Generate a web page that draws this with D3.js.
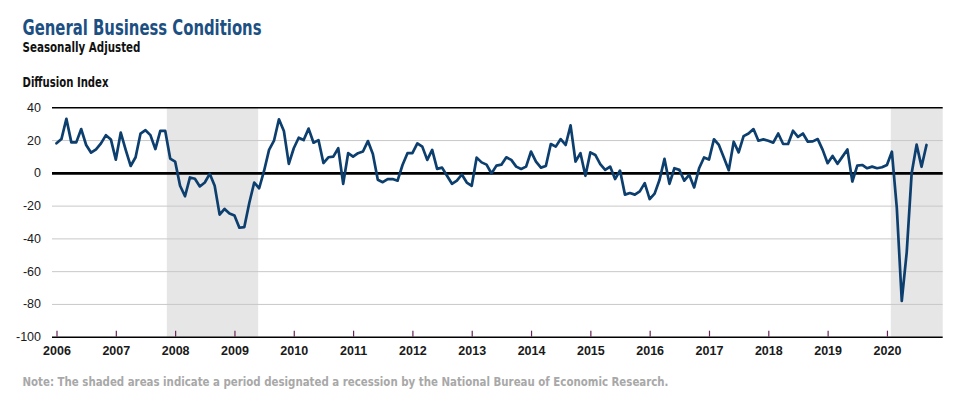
<!DOCTYPE html>
<html><head><meta charset="utf-8">
<script src="https://cdn.jsdelivr.net/npm/d3@7"></script>
<style>body{margin:0;background:#fff}svg{display:block}</style>
</head><body><svg id="c" width="957" height="394"></svg>
<script>
// Monthly values, Jan 2006 .. Sep 2020
const startYear = 2006;
const values = [
 18, 20.6, 33, 18.6, 18.6, 26.7, 17, 12.3, 14.3, 18, 23, 20.4,
 8, 24.6, 14, 4.2, 9.5, 24, 26, 23, 14.5, 25.6, 25.6, 8.7,
 6.9, -7.9, -14.3, -2.8, -3.6, -8.3, -5.9, -0.6, -7.9, -25.5, -22, -24.8,
 -26, -33.5, -33.1, -18.4, -5.9, -9.4, 1.3, 14, 19.6, 32.7, 25.5, 5.5,
 15, 21.4, 20, 27, 18.4, 20, 6, 9.5, 9.9, 15, -6.7, 12,
 9.9, 12, 13, 19.4, 11.5, -4.2, -5.7, -3.8, -3.8, -4.8, 4.8, 12,
 12, 18, 16, 7.9, 14, 2.4, 3.2, -1.8, -6.7, -4.8, -1, -5.9,
 -7.9, 9.3, 6.4, 5, -0.4, 4.4, 5, 9.5, 7.9, 3.8, 2.4, 3.8,
 13, 6.9, 3.2, 4.2, 17.6, 16, 20.6, 17, 29, 6.9, 12, -1.8,
 12.5, 10.9, 5.3, 1.8, 3.8, -3.8, 1.4, -13.3, -12.3, -13.3, -11.3, -6.3,
 -16, -12.7, -4.2, 8.5, -6.7, 2.8, 1.8, -4.8, -1.2, -8.9, 2.8, 9.4,
 8.1, 20.5, 17, 9.4, 1.6, 19, 12.5, 22.4, 24, 26.7, 19.6, 20.4,
 19.6, 18.4, 24, 17.6, 17.6, 25.7, 22, 24, 19, 19.2, 20.6, 14,
 5.9, 10.3, 5.5, 9.9, 14.3, -5.3, 4.4, 4.8, 2.8, 3.8, 2.8, 3.4,
 4.8, 12.9, -21.5, -78.2, -48.5, -0.2, 17.2, 3.7, 17.0
];
const yTicks = [40, 20, 0, -20, -40, -60, -80, -100];
const xTickYears = [2006,2007,2008,2009,2010,2011,2012,2013,2014,2015,2016,2017,2018,2019,2020];
const recessionStarts = [2007.86, 2020.065];
const recessionEnds = [2009.40, 2020.94];

const title = "General Business Conditions";
const subtitle = "Seasonally Adjusted";
const yTitle = "Diffusion Index";
const note = "Note: The shaded areas indicate a period designated a recession by the National Bureau of Economic Research.";

const svg = d3.select("#c");
svg.append("rect").attr("width",957).attr("height",394).attr("fill","#fff");

const L = 56.5, R = 942.7, gridL = 52;
const x = d3.scaleLinear().domain([2006, 2020.94]).range([L, R]);
const y = d3.scaleLinear().domain([-100, 40]).range([336.7, 107.3]);

const narrow = "'Liberation Sans Narrow','DejaVu Sans Condensed','Arial Narrow',sans-serif";

// Recession shading
svg.append("g").selectAll("rect").data(recessionStarts).join("rect")
  .attr("x", d => x(d))
  .attr("width", (d,i) => x(recessionEnds[i]) - x(d))
  .attr("y", y(40)).attr("height", y(-100) - y(40))
  .attr("fill", "#e6e6e6");

// Y axis with gridlines
const yAxis = svg.append("g").attr("transform", `translate(${gridL},0)`)
  .call(d3.axisLeft(y).tickValues(yTicks).tickSize(-(R - gridL)).tickPadding(11).tickFormat(d => String(d)));
yAxis.select(".domain").remove();
yAxis.selectAll(".tick line")
  .attr("stroke", d => (d === 40 || d === 0 || d === -100) ? "#000" : "#c8c8c8")
  .attr("stroke-width", d => d === 0 ? 2.6 : (d === -100 ? 1.6 : (d === 40 ? 1.4 : 1)));
yAxis.selectAll(".tick text")
  .attr("font-family", "'Liberation Sans',Arial,sans-serif")
  .attr("font-size", 12.5).attr("fill", "#1a1a1a");

// X axis
const xAxis = svg.append("g").attr("transform", `translate(0,${y(-100)})`)
  .call(d3.axisBottom(x).tickValues(xTickYears).tickSize(-6).tickFormat(d => String(d)));
xAxis.select(".domain").remove();
xAxis.selectAll(".tick line").attr("stroke", "#6a2456").attr("stroke-width", 1.2);
xAxis.selectAll(".tick text")
  .attr("y", 18.3).attr("dy", null)
  .attr("font-family", "'Liberation Sans',Arial,sans-serif")
  .attr("font-weight", "bold")
  .attr("font-size", 12.5).attr("fill", "#1a1a1a");

// Line
const pts = values.map((v, i) => [startYear + i / 12, v]);
svg.append("path").datum(pts)
  .attr("fill", "none").attr("stroke", "#0c3e6e").attr("stroke-width", 2.7)
  .attr("stroke-linejoin", "round").attr("stroke-linecap", "round")
  .attr("d", d3.line().x(d => x(d[0])).y(d => y(d[1])));

// Texts
function txt(s, xx, yy, size, weight, fill, width) {
  const t = svg.append("text").attr("x", xx).attr("y", yy)
    .attr("font-family", narrow).attr("font-size", size).attr("font-weight", weight)
    .attr("fill", fill).text(s);
  if (width) t.attr("textLength", width).attr("lengthAdjust", "spacingAndGlyphs");
  return t;
}
txt(title, 22.5, 35.3, 21, "bold", "#1c4f82", 239);
txt(subtitle, 22.5, 52.3, 13.5, "bold", "#111", 118);
txt(yTitle, 22.5, 87.3, 13.5, "bold", "#111", 86);
txt(note, 22.5, 385.5, 13, "bold", "#a8a8a8", 646);
</script></body></html>
